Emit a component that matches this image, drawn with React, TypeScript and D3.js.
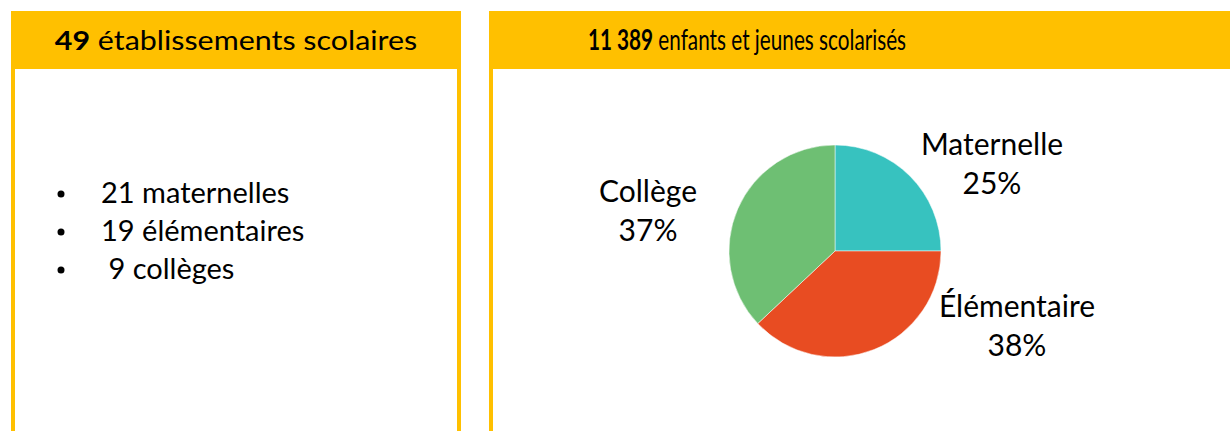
import React from "react";
import * as d3 from "d3";

// données
const categories = ["Maternelle", "Élémentaire", "Collège"];
const shares = [25, 38, 37];
const sliceColors = ["#37C2BF", "#E84C22", "#6EBF73"];
const schoolItems = ["21 maternelles", "19 élémentaires", " 9 collèges"];
const schoolsTotal = "49";
const schoolsLabel = " établissements scolaires";
const pupilsTotal = "11 389";
const pupilsLabel = " enfants et jeunes scolarisés";

const W = 1230;
const H = 431;
const gold = "#FFC000";
const font = "Lato, 'Open Sans', sans-serif";

// label block centres, relative to the pie centre (Excel "best fit" placement)
const labelOffset: Record<string, [number, number]> = {
  Maternelle: [157, -87],
  "Élémentaire": [182, 75],
  "Collège": [-187, -40],
};

const Title = ({ x, bold, rest, sx, size }: { x: number; bold: string; rest: string; sx: number; size: number }) => (
  <g transform={`translate(${x},50) scale(${sx},1)`}>
    <text textAnchor="middle" fontSize={size} fill="#000" style={{ whiteSpace: "pre" }}>
      <tspan fontWeight="bold">{bold}</tspan>
      {rest}
    </text>
  </g>
);

const App = () => {
  const cx = 835;
  const cy = 251;
  const R = 106;

  const pie = d3.pie<number>().sort(null).value((d) => d);
  const arcs = pie(shares);
  const arc = d3.arc<d3.PieArcDatum<number>>().innerRadius(0).outerRadius(R);
  const pct = d3.format(".0%");
  const total = d3.sum(shares);

  const listY = d3.scaleLinear().domain([0, 1]).range([203, 241]);

  return (
    <svg
      width={W}
      height={H}
      style={{ position: "absolute", left: 0, top: 0, display: "block" }}
      fontFamily={font}
    >
      <rect width={W} height={H} fill="#fff" />

      {/* left card */}
      <rect x={11} y={11} width={450} height={58} fill={gold} />
      <rect x={11} y={69} width={4} height={H - 69} fill={gold} />
      <rect x={457} y={69} width={4} height={H - 69} fill={gold} />
      <Title x={236} bold={schoolsTotal} rest={schoolsLabel} sx={1.17} size={26} />
      {schoolItems.map((t, i) => (
        <g key={t}>
          <circle cx={61} cy={listY(i) - 9} r={3.5} fill="#000" />
          <text x={101} y={listY(i)} fontSize={29} fill="#000" style={{ whiteSpace: "pre" }}>
            {t}
          </text>
        </g>
      ))}

      {/* right card */}
      <rect x={489} y={11} width={W - 489 + 5} height={58} fill={gold} />
      <rect x={489} y={69} width={4} height={H - 69} fill={gold} />
      <Title x={747} bold={pupilsTotal} rest={pupilsLabel} sx={0.74} size={28} />

      <g transform={`translate(${cx},${cy})`}>
        {arcs.map((d, i) => (
          <path key={categories[i]} d={arc(d) || ""} fill={sliceColors[i]} stroke="#fff" strokeWidth={0.5} />
        ))}
        {arcs.map((d, i) => {
          const [x, y] = labelOffset[categories[i]];
          return (
            <text key={categories[i]} x={x} y={y} textAnchor="middle" fontSize={30} fill="#000">
              <tspan x={x} dy={-9}>{categories[i]}</tspan>
              <tspan x={x} dy={39}>{pct(d.data / total)}</tspan>
            </text>
          );
        })}
      </g>
    </svg>
  );
};

export default App;
